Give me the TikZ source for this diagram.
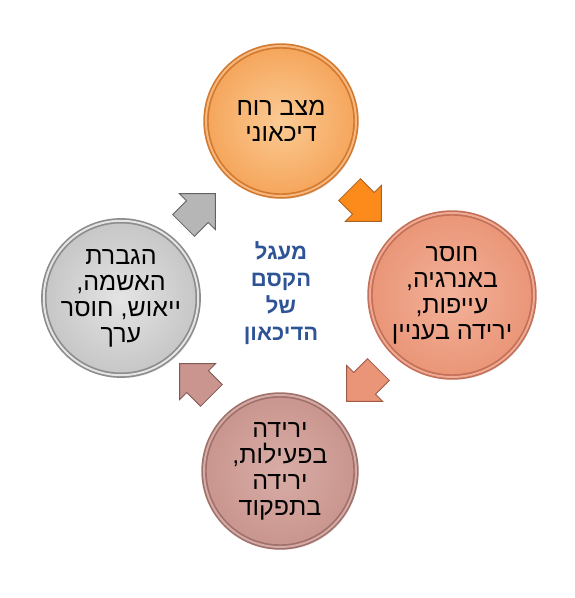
\documentclass[tikz,border=0pt]{standalone}
\usepackage{fontspec}
\setmainfont{Liberation Sans}
\newfontfamily\hebfont[Script=Hebrew]{Liberation Sans}
\TeXXeTstate=1
\usetikzlibrary{shapes.arrows,shadows}

\definecolor{orL}{HTML}{FBCB94}
\definecolor{orM}{HTML}{F5A55B}
\definecolor{orD}{HTML}{D27A30}
\definecolor{saL}{HTML}{F2B29A}
\definecolor{saM}{HTML}{EA9577}
\definecolor{saD}{HTML}{C46F57}
\definecolor{roL}{HTML}{D8ADA6}
\definecolor{roM}{HTML}{C9958E}
\definecolor{roD}{HTML}{A0706A}
\definecolor{grL}{HTML}{E4E4E4}
\definecolor{grM}{HTML}{C6C6C6}
\definecolor{grD}{HTML}{8C8C8C}
\definecolor{titleblue}{HTML}{2E5496}

\tikzset{
  disc/.style={circle, line width=1.7pt, double distance=2pt, align=center, inner sep=0pt,
    font=\hebfont\fontsize{25}{26}\selectfont,
    drop shadow={opacity=0.15, shadow xshift=2pt, shadow yshift=-3pt}},
  blockarrow/.style={single arrow, line width=0.8pt, inner xsep=0pt, inner ysep=15pt,
    minimum height=45pt, single arrow head extend=10pt}
}

\begin{document}
\begin{tikzpicture}[x=1pt,y=1pt]
\useasboundingbox (0,0) rectangle (575,598);
% circles
\node[disc, minimum size=150pt, inner color=orL, outer color=orM, draw=orD, double=orM!80!white] (mood) at (281,477)
  {\beginR מצב רוח\endR\\\beginR דיכאוני\endR};
\node[disc, minimum size=164pt, inner color=saL, outer color=saM, draw=saD, double=saM!80!white] (energy) at (452,303)
  {\beginR חוסר\endR\\\beginR באנרגיה,\endR\\\beginR עייפות,\endR\\\beginR ירידה בעניין\endR};
\node[disc, minimum size=152pt, inner color=roL, outer color=roM, draw=roD, double=roM!80!white] (activity) at (280,127)
  {\beginR ירידה\endR\\\beginR בפעילות,\endR\\\beginR ירידה\endR\\\beginR בתפקוד\endR};
\node[disc, minimum size=146pt, inner color=grL, outer color=grM, draw=grD, double=grL] (guilt) at (121,300)
  {\beginR הגברת\endR\\\beginR האשמה,\endR\\\beginR ייאוש, חוסר\endR\\\beginR ערך\endR};
% title
\node[align=center, text=titleblue, font=\hebfont\bfseries\fontsize{22}{27}\selectfont] (title) at (281,305)
  {\beginR מעגל\endR\\\beginR הקסם\endR\\\beginR של\endR\\\beginR הדיכאון\endR};
% arrows
\node[blockarrow, fill=orange!70!orM, draw=orD!80!black, rotate=-45] (a1) at (360,398) {};
\node[blockarrow, fill=saM, draw=saD!80!black, rotate=-135] (a2) at (368,218) {};
\node[blockarrow, fill=roM, draw=roD!80!black, rotate=135] (a3) at (201,213) {};
\node[blockarrow, fill=grM!92!black, draw=grD!70!black, rotate=45] (a4) at (194,383) {};
\end{tikzpicture}
\end{document}
